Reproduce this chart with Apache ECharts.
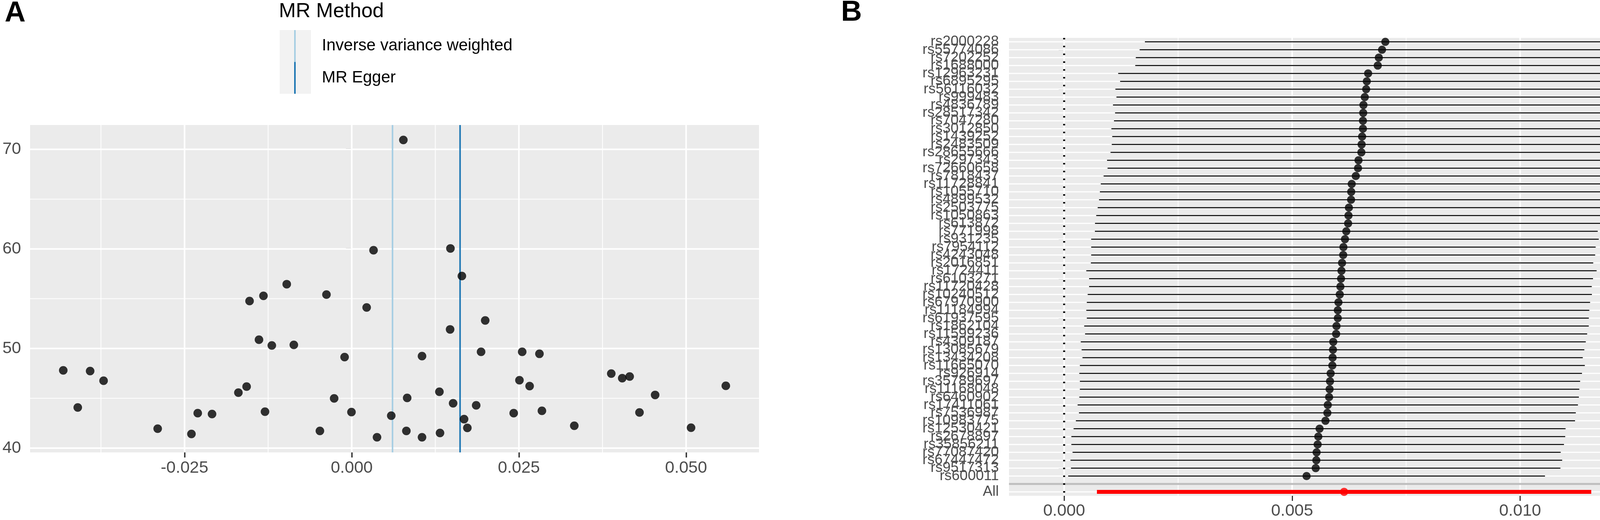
<!DOCTYPE html>
<html>
<head>
<meta charset="utf-8">
<title>MR funnel and forest plot</title>
<script src="https://cdn.jsdelivr.net/npm/echarts@6/dist/echarts.min.js"></script>
<style>
  html, body { margin: 0; padding: 0; background: #fff; }
  #chart { width: 4317px; height: 1331px; }
</style>
</head>
<body>
<div id="chart"></div>
<script>
// ---- panel A: funnel plot (single SNP estimate vs precision) ----
const funnelBeta = [
  0.00772, 0.00326, 0.01476, 0.01647, -0.00972, -0.00378, -0.01320, -0.01528, 0.00223,
  -0.04314, -0.03912, -0.03711, -0.04097, -0.02902, -0.02397, -0.02303, -0.02089,
  -0.01695, -0.01572, -0.01387, -0.01195, -0.00866, -0.01297, -0.00476, -0.00263,
  -0.00107, -0.00004, 0.00378, 0.00591, 0.00829, 0.00817, 0.01051, 0.01051,
  0.01996, 0.01471, 0.01934, 0.02549, 0.02807, 0.03881, 0.04045, 0.04156, 0.02508,
  0.02660, 0.05594, 0.01311, 0.04537, 0.01516, 0.01861, 0.02422, 0.02844, 0.04303,
  0.01680, 0.01729, 0.03328, 0.05074, 0.01320
];
const funnelPrecision = [
  70.94, 59.87, 60.05, 57.28, 56.46, 55.42, 55.29, 54.77, 54.12,
  47.81, 47.74, 46.77, 44.08, 41.95, 41.42, 43.51, 43.42,
  45.57, 46.18, 50.89, 50.31, 50.37, 43.66, 41.73, 44.99,
  49.14, 43.62, 41.09, 43.26, 45.04, 41.73, 41.09, 49.24,
  52.82, 51.92, 49.67, 49.67, 49.47, 47.48, 47.02, 47.19, 46.82,
  46.23, 46.26, 45.66, 45.34, 44.50, 44.30, 43.51, 43.75, 43.58,
  42.91, 42.03, 42.25, 42.05, 41.52
];
const methodNames = ['Inverse variance weighted', 'MR Egger'];
const methodBeta = [0.0061, 0.0162];
const methodColors = ['#A6CEE3', '#1F78B4'];

const xTicksA = [-0.025, 0, 0.025, 0.05];
const xMinorA = [-0.0375, -0.0125, 0.0125, 0.0375];
const yTicksA = [40, 50, 60, 70];
const yMinorA = [45, 55, 65];

// ---- panel B: forest plot ----
const snpNames = [
  'rs2000228', 'rs55774086', 'rs7202252', 'rs1688000', 'rs12963231', 'rs6895295',
  'rs56116032', 'rs999483', 'rs4836789', 'rs28517342', 'rs7047280', 'rs3012850',
  'rs1439252', 'rs2483509', 'rs28655666', 'rs297343', 'rs72660658', 'rs7818437',
  'rs11728841', 'rs1055710', 'rs4899532', 'rs2503775', 'rs1050863', 'rs613872',
  'rs771998', 'rs931235', 'rs7954112', 'rs4243048', 'rs2016851', 'rs1724411',
  'rs6103271', 'rs11720428', 'rs10240512', 'rs67970900', 'rs11184994', 'rs61937595',
  'rs1862104', 'rs11599236', 'rs4309187', 'rs13085679', 'rs13434208', 'rs11665070',
  'rs926914', 'rs35789697', 'rs11168048', 'rs6460902', 'rs17411061', 'rs7536987',
  'rs10983775', 'rs12530421', 'rs2678897', 'rs35856211', 'rs77087420', 'rs67447472',
  'rs9517313', 'rs600011'
];
const snpBeta = [
  0.007044, 0.006972, 0.006901, 0.006878, 0.006667, 0.006638, 0.006624, 0.006593,
  0.006564, 0.006559, 0.006553, 0.006553, 0.006535, 0.006524, 0.006519, 0.006456,
  0.006445, 0.006396, 0.006307, 0.006296, 0.006293, 0.006245, 0.006236, 0.006228,
  0.006188, 0.006159, 0.006125, 0.006120, 0.006095, 0.006082, 0.006073, 0.006059,
  0.006045, 0.006016, 0.006002, 0.006002, 0.005973, 0.005965, 0.005902, 0.005896,
  0.005888, 0.005882, 0.005845, 0.005831, 0.005822, 0.005811, 0.005782, 0.005773,
  0.005731, 0.005602, 0.005574, 0.005560, 0.005537, 0.005531, 0.005517, 0.005317
];
const snpLower = [
  0.001771, 0.001656, 0.001571, 0.001560, 0.001186, 0.001228, 0.001124, 0.001147,
  0.001071, 0.001117, 0.001093, 0.001036, 0.001055, 0.001044, 0.001017, 0.000941,
  0.000952, 0.000865, 0.000803, 0.000784, 0.000765, 0.000735, 0.000704, 0.000677,
  0.000674, 0.000593, 0.000593, 0.000593, 0.000586, 0.000486, 0.000547, 0.000547,
  0.000516, 0.000497, 0.000486, 0.000497, 0.000440, 0.000459, 0.000364, 0.000383,
  0.000402, 0.000345, 0.000333, 0.000345, 0.000345, 0.000333, 0.000295, 0.000325,
  0.000257, 0.000207, 0.000158, 0.000158, 0.000184, 0.000139, 0.000150, 0.000088
];
const snpUpper = [
  0.012317, 0.012288, 0.012231, 0.012196, 0.012148, 0.012048, 0.012124, 0.012039,
  0.012057, 0.012001, 0.012013, 0.012070, 0.012015, 0.012004, 0.012021, 0.011971,
  0.011938, 0.011927, 0.011811, 0.011808, 0.011821, 0.011755, 0.011768, 0.011779,
  0.011702, 0.011725, 0.011657, 0.011647, 0.011604, 0.011678, 0.011599, 0.011571,
  0.011574, 0.011535, 0.011518, 0.011507, 0.011506, 0.011471, 0.011440, 0.011409,
  0.011374, 0.011419, 0.011357, 0.011317, 0.011299, 0.011289, 0.011269, 0.011221,
  0.011205, 0.010997, 0.010990, 0.010962, 0.010890, 0.010923, 0.010884, 0.010546
];
const allLabel = 'All';
const allBeta = 0.00614;
const allLower = 0.000719;
const allUpper = 0.01156;

const xTicksB = [0, 0.005, 0.01];
const xMinorB = [0.0025, 0.0075, 0.0125];

// y categories for panel B: SNPs, an empty spacer row, then All
const rowsB = snpNames.concat(['', allLabel]);
const spacerIndex = snpNames.length;
const allIndex = snpNames.length + 1;

const FONT = '"Liberation Sans", Arial, Helvetica, sans-serif';
const PANEL_BG = '#EBEBEB';
const TEXT_GREY = '#4D4D4D';

// vertical reference lines spanning the whole grid, one per value
function vLines(name, gi, values, color, width, z, dash) {
  return {
    name: name, type: 'custom', xAxisIndex: gi, yAxisIndex: gi, z: z, silent: true,
    encode: { x: 0, y: 1 },
    data: values.map(v => [v, 0]),
    renderItem: function (params, api) {
      const cs = params.coordSys;
      const x = api.coord([api.value(0), 0])[0];
      return {
        type: 'line',
        shape: { x1: x, y1: cs.y, x2: x, y2: cs.y + cs.height },
        style: { stroke: color, lineWidth: width, lineDash: dash || null }
      };
    }
  };
}

// horizontal reference lines spanning the whole grid
function hLines(name, gi, values, color, width, z) {
  return {
    name: name, type: 'custom', xAxisIndex: gi, yAxisIndex: gi, z: z, silent: true,
    encode: { x: 0, y: 1 },
    data: values.map(v => [0, v]),
    renderItem: function (params, api) {
      const cs = params.coordSys;
      const y = api.coord([0, api.value(1)])[1];
      return {
        type: 'line',
        shape: { x1: cs.x, y1: y, x2: cs.x + cs.width, y2: y },
        style: { stroke: color, lineWidth: width }
      };
    }
  };
}

// horizontal interval segments (confidence intervals)
function ciSeries(name, data, color, width) {
  return {
    name: name, type: 'custom', xAxisIndex: 1, yAxisIndex: 1, z: 4, silent: true,
    encode: { x: [0, 1], y: 2 },
    data: data,
    renderItem: function (params, api) {
      const a = api.coord([api.value(0), api.value(2)]);
      const b = api.coord([api.value(1), api.value(2)]);
      return {
        type: 'line',
        shape: { x1: a[0], y1: a[1], x2: b[0], y2: b[1] },
        style: { stroke: color, lineWidth: width }
      };
    }
  };
}

function fmt3(v) {
  return v.toFixed(3);
}

const chart = echarts.init(document.getElementById('chart'), null, { renderer: 'canvas' });

const option = {
  animation: false,
  backgroundColor: '#fff',
  textStyle: { fontFamily: FONT },
  title: [
    { text: 'A', left: 12, top: -2, padding: 0,
      textStyle: { fontFamily: FONT, fontSize: 74, fontWeight: 'bold', color: '#000' } },
    { text: 'B', left: 2153, top: -4, padding: 0,
      textStyle: { fontFamily: FONT, fontSize: 74, fontWeight: 'bold', color: '#000' } },
    { text: 'MR Method', left: 714, top: 4, padding: 0,
      textStyle: { fontFamily: FONT, fontSize: 52, fontWeight: 'normal', color: '#000' } }
  ],
  graphic: [
    // grey background behind the two legend keys
    { type: 'rect', left: 716, top: 77, z: 0, shape: { width: 80, height: 163 }, style: { fill: '#F2F2F2' } }
  ],
  legend: {
    data: methodNames.map((n, i) => ({ name: n, itemStyle: { color: methodColors[i] } })),
    orient: 'vertical',
    left: 753,
    top: 77,
    padding: 0,
    itemGap: 0,
    itemWidth: 4,
    itemHeight: 81.5,
    icon: 'rect',
    selectedMode: false,
    z: 5,
    textStyle: { fontFamily: FONT, fontSize: 42, color: '#000', padding: [0, 0, 0, 62] }
  },
  grid: [
    { left: 77, top: 320, width: 1866, height: 838, show: true, backgroundColor: PANEL_BG, borderWidth: 0 },
    { left: 2583, top: 97, width: 1724, height: 1172, show: true, backgroundColor: PANEL_BG, borderWidth: 0 }
  ],
  xAxis: [
    {
      type: 'value', gridIndex: 0, min: -0.0481, max: 0.0609,
      axisLine: { show: false },
      splitLine: { show: false },
      axisTick: { show: true, length: 13, customValues: xTicksA, lineStyle: { color: '#333', width: 3.5 } },
      axisLabel: { customValues: xTicksA, formatter: fmt3, fontFamily: FONT, fontSize: 43, color: TEXT_GREY, margin: 19 }
    },
    {
      type: 'value', gridIndex: 1, min: -0.00121, max: 0.01356,
      axisLine: { show: false },
      splitLine: { show: false },
      axisTick: { show: true, length: 13, customValues: xTicksB, lineStyle: { color: '#333', width: 3 } },
      axisLabel: { customValues: xTicksB, formatter: fmt3, fontFamily: FONT, fontSize: 43, color: TEXT_GREY, margin: 18 }
    }
  ],
  yAxis: [
    {
      type: 'value', gridIndex: 0, min: 39.57, max: 72.44,
      axisLine: { show: false },
      splitLine: { show: false },
      axisTick: { show: true, length: 15, customValues: yTicksA, lineStyle: { color: '#333', width: 3.5 } },
      axisLabel: { customValues: yTicksA, fontFamily: FONT, fontSize: 43, color: TEXT_GREY, margin: 23 }
    },
    {
      type: 'category', gridIndex: 1, data: rowsB, inverse: true, boundaryGap: true,
      axisLine: { show: false },
      splitLine: { show: false },
      axisTick: { show: true, length: 14, interval: 0, alignWithLabel: true, lineStyle: { color: '#555', width: 2 } },
      axisLabel: { interval: 0, fontFamily: FONT, fontSize: 37, color: TEXT_GREY, margin: 26 }
    }
  ],
  series: [
    // panel A background grid
    vLines('gridA-minor-x', 0, xMinorA, '#fff', 2, 1),
    hLines('gridA-minor-y', 0, yMinorA, '#fff', 2, 1),
    vLines('gridA-major-x', 0, xTicksA, '#fff', 4, 1),
    hLines('gridA-major-y', 0, yTicksA, '#fff', 4, 1),
    // panel A method estimates (named so the legend picks them up)
    ...methodNames.map((name, i) => Object.assign(
      vLines(name, 0, [methodBeta[i]], methodColors[i], 4, 2),
      { color: methodColors[i] }
    )),
    {
      name: 'SNPs', type: 'scatter', xAxisIndex: 0, yAxisIndex: 0, z: 3,
      symbol: 'circle', symbolSize: 22,
      itemStyle: { color: '#000' },
      data: funnelBeta.map((b, i) => [b, funnelPrecision[i]])
    },
    // panel B background grid, spacer line and zero line
    vLines('gridB-minor-x', 1, xMinorB, '#fff', 2, 1),
    vLines('gridB-major-x', 1, xTicksB, '#fff', 4, 1),
    hLines('gridB-rows', 1, rowsB.map((r, i) => i), '#fff', 3, 1),
    hLines('gridB-spacer', 1, [spacerIndex], '#BEBEBE', 5, 2),
    vLines('zero', 1, [0], '#000', 5, 3, [4, 16]),
    ciSeries('ciB', snpNames.map((s, i) => [snpLower[i], snpUpper[i], i]), '#000', 2.5),
    ciSeries('ciAll', [[allLower, allUpper, allIndex]], '#FF0000', 10),
    {
      name: 'betaB', type: 'scatter', xAxisIndex: 1, yAxisIndex: 1, z: 5,
      symbol: 'circle', symbolSize: 21,
      itemStyle: { color: '#000' },
      data: snpNames.map((s, i) => [snpBeta[i], i])
    },
    {
      name: 'betaAll', type: 'scatter', xAxisIndex: 1, yAxisIndex: 1, z: 5,
      symbol: 'circle', symbolSize: 21,
      itemStyle: { color: '#FF0000' },
      data: [[allBeta, allIndex]]
    }
  ]
};

chart.setOption(option);
</script>
</body>
</html>
